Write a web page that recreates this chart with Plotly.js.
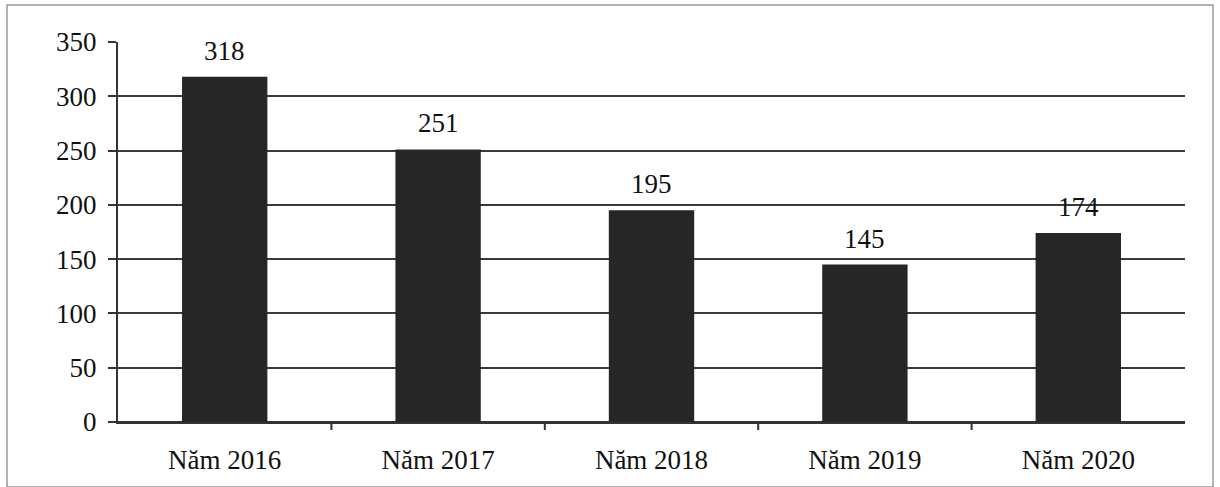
<!DOCTYPE html>
<html>
<head>
<meta charset="utf-8">
<script src="https://cdn.plot.ly/plotly-3.0.1.min.js"></script>
<style>html,body{margin:0;padding:0;background:#fff;}#chart{width:1220px;height:487px;}</style>
</head>
<body>
<div id="chart"></div>
<script>
const categories = ["Năm 2016", "Năm 2017", "Năm 2018", "Năm 2019", "Năm 2020"];
const values = [318, 251, 195, 145, 174];
const tickVals = [0, 50, 100, 150, 200, 250, 300, 350];

const font = {family: "Liberation Serif, Times New Roman, serif", size: 27, color: "#111"};

const trace = {
  type: "bar",
  x: categories,
  y: values,
  marker: {color: "#262626", line: {width: 0}},
  hoverinfo: "none"
};

const annotations = categories.map((c, i) => ({
  x: c, y: values[i], xref: "x", yref: "y",
  text: String(values[i]), showarrow: false,
  yanchor: "bottom", yshift: 9,
  font: font
}));

const layout = {
  width: 1220, height: 487,
  margin: {l: 118, r: 35, t: 42, b: 65},
  paper_bgcolor: "#fff", plot_bgcolor: "#fff",
  bargap: 0.6,
  showlegend: false,
  font: font,
  xaxis: {
    type: "category",
    showgrid: false,
    showline: true, linecolor: "#333", linewidth: 2,
    ticks: "", tickfont: font,
    ticklabelstandoff: 13
  },
  yaxis: {
    range: [0, 350],
    tickvals: tickVals,
    showgrid: true, gridcolor: "#3a3a3a", gridwidth: 2,
    zeroline: true, zerolinecolor: "#333", zerolinewidth: 2,
    showline: true, linecolor: "#333", linewidth: 2,
    ticks: "outside", ticklen: 8, tickcolor: "#333", tickwidth: 2,
    tickfont: font,
    ticklabelstandoff: 6
  },
  annotations: annotations,
  shapes: [
    {type: "rect", xref: "paper", yref: "paper", layer: "below",
     x0: -111/1067, x1: 1213/1067 - 118/1067, y0: -65/380, y1: 37/380 + 1,
     line: {color: "#999", width: 1.5}},
    ...[0.5, 1.5, 2.5, 3.5].map(v => ({type: "line", xref: "x", yref: "paper",
      x0: v, x1: v, y0: 0, y1: -8/380, line: {color: "#333", width: 2}}))
  ]
};

Plotly.newPlot("chart", [trace], layout, {staticPlot: true, displayModeBar: false});
</script>
</body>
</html>
